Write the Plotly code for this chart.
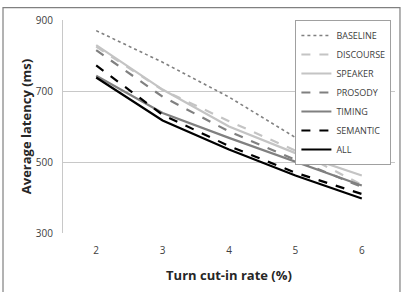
import plotly.graph_objects as go

x_cats = ["2", "3", "4", "5", "6"]
baseline = [870, 781, 683, 569, 523]
discourse = [825, 703, 615, 532, 436]
speaker = [829, 704, 600, 525, 462]
prosody = [815, 684, 586, 506, 430]
timing = [743, 638, 568, 500, 434]
semantic = [772, 633, 545, 470, 410]
all_ = [738, 617, 535, 462, 397]

series = [
    ("BASELINE", baseline, "#808080", "dot"),
    ("DISCOURSE", discourse, "#c4c4c4", "dash"),
    ("SPEAKER", speaker, "#c4c4c4", "solid"),
    ("PROSODY", prosody, "#808080", "dash"),
    ("TIMING", timing, "#808080", "solid"),
    ("SEMANTIC", semantic, "#000000", "dash"),
    ("ALL", all_, "#000000", "solid"),
]

fig = go.Figure()
for name, vals, col, dash in series:
    fig.add_trace(go.Scatter(x=x_cats, y=vals, mode="lines", name=name,
                             line=dict(color=col, width=2.2 if dash != "dot" else 1.6, dash=dash)))

fig.update_layout(
    width=408, height=292,
    margin=dict(l=63, r=13, t=16, b=57),
    paper_bgcolor="white", plot_bgcolor="white",
    font=dict(family="Open Sans, Liberation Sans, sans-serif", size=10, color="#404040"),
    showlegend=True,
    legend=dict(x=0.70, y=1.0, xanchor="left", yanchor="top",
                bordercolor="#a0a0a0", borderwidth=1, bgcolor="white",
                font=dict(size=9, color="#404040"), tracegroupgap=0,
                itemwidth=30),
    xaxis=dict(type="category", range=[-0.5, 4.5], showgrid=False, zeroline=False,
               showline=False, ticks="", ticklabelstandoff=10,
               title=dict(text="<b>Turn cut-in rate (%)</b>", font=dict(size=13, color="#262626"), standoff=14),
               tickfont=dict(size=10, color="#404040")),
    yaxis=dict(range=[300, 900], tickvals=[300, 500, 700, 900], showgrid=True,
               gridcolor="#c8c8c8", gridwidth=1, zeroline=False,
               showline=True, linecolor="#c8c8c8", linewidth=1, ticks="",
               ticklabelstandoff=7,
               title=dict(text="<b>Average latency (ms)</b>", font=dict(size=13, color="#262626"), standoff=1),
               tickfont=dict(size=10, color="#404040")),
    shapes=[dict(type="rect", xref="paper", yref="paper", x0=-0.1807, x1=1.015, y0=-0.3, y1=1.058,
                 line=dict(color="#808080", width=1.2), layer="above")],
)

fig.write_html("out.html")
